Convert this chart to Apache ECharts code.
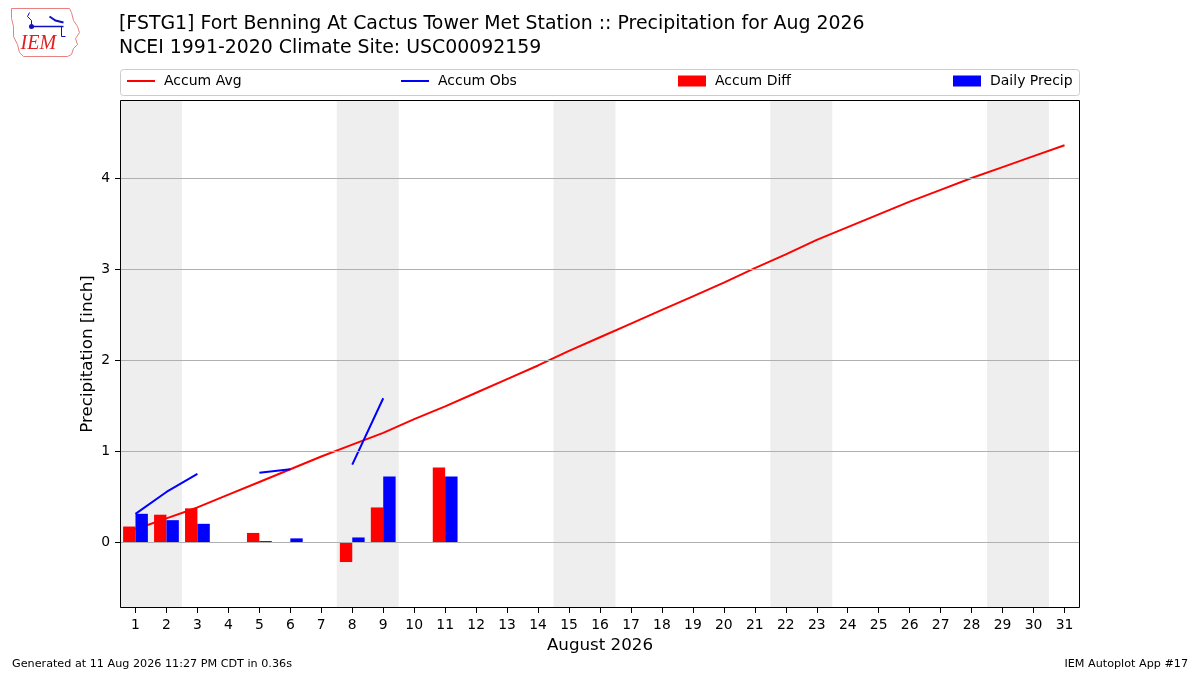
<!DOCTYPE html>
<html>
<head>
<meta charset="utf-8">
<script src="https://cdn.jsdelivr.net/npm/echarts@6/dist/echarts.min.js"></script>
<style>
    html, body { margin: 0; padding: 0; background: #fff; }
    #chart { width: 1200px; height: 675px; }
</style>
</head>
<body>
<div id="chart"></div>
<script>
// day labels for the x axis
const days = ['1', '2', '3', '4', '5', '6', '7', '8', '9', '10', '11', '12', '13', '14', '15', '16',
    '17', '18', '19', '20', '21', '22', '23', '24', '25', '26', '27', '28', '29', '30', '31'];

// climatology accumulated precipitation (inch)
const accumAvg = [0.14, 0.26, 0.38, 0.52, 0.66, 0.80, 0.94, 1.07, 1.20, 1.35, 1.49, 1.64, 1.79, 1.94, 2.10, 2.25,
    2.40, 2.55, 2.70, 2.85, 3.01, 3.16, 3.32, 3.46, 3.60, 3.74, 3.87, 4.00, 4.12, 4.24, 4.36];

// observed accumulation, only drawn where there are neighbours
const accumObs = [0.31, 0.55, 0.75, null, 0.76, 0.80, null, 0.85, 1.58, null, null, null, null, null, null, null,
    null, null, null, null, null, null, null, null, null, null, null, null, null, null, null];

const accumDiff = [0.17, 0.30, 0.37, null, 0.10, null, null, -0.22, 0.38, null, 0.82, null, null, null, null, null,
    null, null, null, null, null, null, null, null, null, null, null, null, null, null, null];

const dailyPrecip = [0.31, 0.24, 0.20, null, 0.01, 0.04, null, 0.05, 0.72, null, 0.72, null, null, null, null, null,
    null, null, null, null, null, null, null, null, null, null, null, null, null, null, null];

// weekend spans (Sat-Sun) in day units
const weekends = [[0.5, 2.5], [7.5, 9.5], [14.5, 16.5], [21.5, 23.5], [28.5, 30.5]];

const yTicks = [0, 1, 2, 3, 4];

const FONT = 'DejaVu Sans';

const chart = echarts.init(document.getElementById('chart'));

function legendItem(name, left, isLine) {
    return {
        data: [name],
        left: left,
        top: 74,
        padding: 0,
        itemWidth: 28,
        itemHeight: isLine ? 2 : 11,
        icon: 'rect',
        selectedMode: false,
        textStyle: { fontFamily: FONT, fontSize: 14, color: '#000', padding: [0, 0, 0, 4] }
    };
}

chart.setOption({
    backgroundColor: '#fff',
    animation: false,
    title: {
        text: '[FSTG1] Fort Benning At Cactus Tower Met Station :: Precipitation for Aug 2026\nNCEI 1991-2020 Climate Site: USC00092159',
        left: 119,
        top: 12,
        padding: 0,
        textStyle: { fontFamily: FONT, fontSize: 18.9, fontWeight: 'normal', color: '#000', lineHeight: 24 }
    },
    legend: [
        legendItem('Accum Avg', 127, true),
        legendItem('Accum Obs', 401, true),
        legendItem('Accum Diff', 678, false),
        legendItem('Daily Precip', 953, false)
    ],
    grid: { left: 120, right: 120, top: 100, bottom: 67 },
    xAxis: [
        {
            type: 'category',
            data: days,
            axisLine: { show: false, onZero: false },
            axisTick: { show: true, alignWithLabel: true, length: 5, lineStyle: { color: '#000' } },
            axisLabel: { interval: 0, fontFamily: FONT, fontSize: 13.9, color: '#000', margin: 10 },
            splitLine: { show: false },
            name: 'August 2026',
            nameLocation: 'middle',
            nameGap: 29,
            nameTextStyle: { fontFamily: FONT, fontSize: 16.7, color: '#000' }
        },
        {
            type: 'value',
            min: 0.5,
            max: 31.5,
            show: false
        }
    ],
    yAxis: {
        type: 'value',
        min: -0.725,
        max: 4.857,
        axisLine: { show: false },
        axisTick: { show: true, length: 5, customValues: yTicks, lineStyle: { color: '#000' } },
        axisLabel: { customValues: yTicks, fontFamily: FONT, fontSize: 13.9, color: '#000', margin: 10 },
        splitLine: { show: false },
        name: 'Precipitation [inch]',
        nameLocation: 'middle',
        nameGap: 24,
        nameMoveOverlap: false,
        nameTextStyle: { fontFamily: FONT, fontSize: 16.7, color: '#000' }
    },
    series: [
        {
            // weekend shading and horizontal grid lines
            type: 'scatter',
            xAxisIndex: 1,
            data: [],
            silent: true,
            z: 1,
            markArea: {
                silent: true,
                itemStyle: { color: '#eeeeee' },
                data: weekends.map(w => [{ xAxis: w[0] }, { xAxis: w[1] }])
            },
            markLine: {
                silent: true,
                symbol: 'none',
                label: { show: false },
                lineStyle: { color: '#b0b0b0', width: 1, type: 'solid' },
                data: yTicks.map(v => ({ yAxis: v }))
            }
        },
        {
            name: 'Accum Avg',
            type: 'line',
            data: accumAvg,
            showSymbol: false,
            color: '#ff0000',
            lineStyle: { color: '#ff0000', width: 2 },
            z: 2
        },
        {
            name: 'Accum Obs',
            type: 'line',
            data: accumObs,
            showSymbol: false,
            connectNulls: false,
            color: '#0000ff',
            lineStyle: { color: '#0000ff', width: 2 },
            z: 2
        },
        {
            name: 'Accum Diff',
            type: 'bar',
            data: accumDiff,
            barWidth: '40%',
            barGap: '0%',
            itemStyle: { color: '#ff0000' },
            z: 3
        },
        {
            name: 'Daily Precip',
            type: 'bar',
            data: dailyPrecip,
            barWidth: '40%',
            barGap: '0%',
            itemStyle: { color: '#0000ff' },
            z: 3
        }
    ],
    graphic: [
        {
            // legend frame
            type: 'rect',
            shape: { x: 120.5, y: 69.5, width: 959, height: 26, r: 3 },
            style: { fill: 'none', stroke: '#cccccc', lineWidth: 1 },
            z: 0
        },
        {
            // plot frame
            type: 'rect',
            shape: { x: 120.5, y: 100.5, width: 959, height: 507 },
            style: { fill: 'none', stroke: '#000', lineWidth: 1 },
            z: 100
        },
        {
            type: 'text',
            left: 12,
            top: 659,
            style: { text: 'Generated at 11 Aug 2026 11:27 PM CDT in 0.36s', font: '11.2px "DejaVu Sans"', fill: '#000' }
        },
        {
            type: 'text',
            right: 12,
            top: 659,
            style: { text: 'IEM Autoplot App #17', font: '11.2px "DejaVu Sans"', fill: '#000' }
        },
        {
            // IEM logo: state outline, vane and lettering
            type: 'group',
            left: 9,
            top: 6,
            children: [
                {
                    type: 'polyline',
                    shape: { points: [[2, 2], [60, 2], [62, 6], [64, 14], [68, 20], [70, 26], [66, 32], [68, 38], [64, 42], [62, 48], [58, 50], [14, 50], [10, 46], [8, 38], [4, 30], [4, 20], [2, 12], [2, 2]] },
                    style: { fill: 'none', stroke: '#e88080', lineWidth: 1 }
                },
                {
                    type: 'polyline',
                    shape: { points: [[22, 20], [54, 20]] },
                    style: { stroke: '#1010c0', lineWidth: 1.5 }
                },
                {
                    type: 'circle',
                    shape: { cx: 22, cy: 20, r: 2.5 },
                    style: { fill: '#1010c0' }
                },
                {
                    type: 'polyline',
                    shape: { points: [[20, 6], [18, 10], [22, 14], [22, 18]] },
                    style: { fill: 'none', stroke: '#1010c0', lineWidth: 1 }
                },
                {
                    type: 'polyline',
                    shape: { points: [[40, 10], [46, 14], [54, 16]] },
                    style: { fill: 'none', stroke: '#1010c0', lineWidth: 2 }
                },
                {
                    type: 'polyline',
                    shape: { points: [[52, 20], [52, 30], [56, 30]] },
                    style: { fill: 'none', stroke: '#1010c0', lineWidth: 1 }
                },
                {
                    type: 'text',
                    x: 11,
                    y: 27,
                    style: { text: 'IEM', font: 'italic 20px "Liberation Serif"', fill: '#e02020' }
                }
            ]
        }
    ]
});
</script>
</body>
</html>
